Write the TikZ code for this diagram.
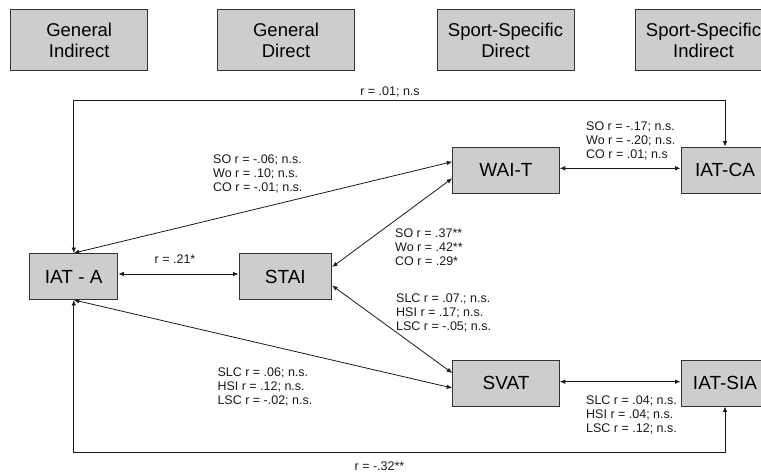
\documentclass[tikz,border=0pt]{standalone}
\usepackage{fontspec}
\setmainfont{Liberation Sans}
\usetikzlibrary{arrows.meta}
\definecolor{boxgray}{HTML}{CDCDCD}
\definecolor{edge}{HTML}{333333}
\begin{document}
\begin{tikzpicture}[x=1pt,y=-1pt,
  box/.style={draw=edge, line width=0.9pt, fill=boxgray, inner sep=0pt,
    minimum height=46pt, font=\fontsize{19}{21}\selectfont},
  headbox/.style={box, minimum width=137pt, minimum height=61.5pt,
    align=center, font=\fontsize{18.5}{21}\selectfont},
  lbl/.style={inner sep=0pt, align=left, text=black!90,
    font=\fontsize{12.5}{14}\selectfont},
  link/.style={line width=0.8pt, draw=black!90,
    {Latex[length=5.5pt,width=4.5pt]}-{Latex[length=5.5pt,width=4.5pt]}},
]
\useasboundingbox (0,0) rectangle (761,475);
\clip (0,0) rectangle (761,475);

% column headings
\node[headbox] (gi) at (79.2,40) {General\\Indirect};
\node[headbox] (gd) at (286,40) {General\\Direct};
\node[headbox] (sd) at (505.5,40) {Sport-Specific\\Direct};
\node[headbox] (si) at (703.5,40) {Sport-Specific\\Indirect};

% measures
\node[box, minimum width=88pt] (iata) at (73.8,276.5) {IAT - A};
\node[box, minimum width=92.7pt] (stai) at (285.3,276.5) {STAI};
\node[box, minimum width=106.6pt] (wait) at (506,170) {WAI-T};
\node[box, minimum width=88pt] (iatca) at (725,170) {IAT-CA};
\node[box, minimum width=106.6pt] (svat) at (506,383) {SVAT};
\node[box, minimum width=88pt] (iatsia) at (725,383) {IAT-SIA};

% routing levels of the outer connectors
\coordinate (topy) at (0,100.7);
\coordinate (boty) at (0,452.7);

% correlations
\draw[link] (iata.north) -- (iata.north |- topy) -| (iatca.north);
\draw[link] (iata.south) -- (iata.south |- boty) -| (iatsia.south);
\draw[link] ([yshift=2.5pt]iata.east) -- ([yshift=2.5pt]stai.west);
\draw[link] (iata.north) -- ([yshift=8.3pt]wait.west);
\draw[link] ([yshift=9.5pt]stai.east) -- ([yshift=-8.3pt]wait.west);
\draw[link] ([yshift=-9pt]stai.east) -- ([yshift=10pt]svat.west);
\draw[link] (iata.south) -- ([yshift=-5pt]svat.west);
\draw[link] ([yshift=1.7pt]wait.east) -- ([yshift=1.7pt]iatca.west);
\draw[link] ([yshift=1.3pt]svat.east) -- ([yshift=1.3pt]iatsia.west);

% coefficients
\node[lbl] (rtop) at (390,91.7) {r = .01; n.s};
\node[lbl] (rbot) at (379.5,465.7) {r = -.32**};
\node[lbl] (rsa) at (175,259) {r = .21*};
\node[lbl, anchor=west] (lwi) at (213,174)
  {SO r = -.06; n.s.\\Wo r = .10; n.s.\\CO r = -.01; n.s.};
\node[lbl, anchor=west] (lwc) at (586,140.7)
  {SO r = -.17; n.s.\\Wo r = -.20; n.s.\\CO r = .01; n.s};
\node[lbl, anchor=west] (lsw) at (395,246.7)
  {SO r = .37**\\Wo r = .42**\\CO r = .29*};
\node[lbl, anchor=west] (lss) at (396,313.3)
  {SLC r = .07.; n.s.\\HSI r = .17; n.s.\\LSC r = -.05; n.s.};
\node[lbl, anchor=west] (lis) at (217.3,387.3)
  {SLC r = .06; n.s.\\HSI r = .12; n.s.\\LSC r = -.02; n.s.};
\node[lbl, anchor=west] (lsv) at (586,415)
  {SLC r = .04; n.s.\\HSI r = .04; n.s.\\LSC r = .12; n.s.};
\end{tikzpicture}
\end{document}
